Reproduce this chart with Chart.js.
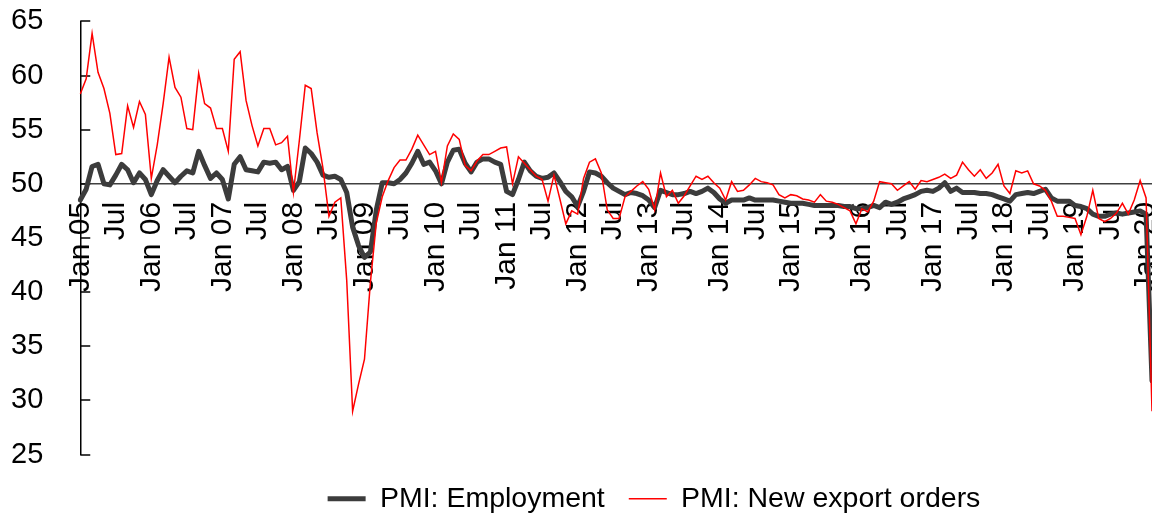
<!DOCTYPE html>
<html><head><meta charset="utf-8">
<script src="https://cdn.jsdelivr.net/npm/chart.js@4.4.1/dist/chart.umd.min.js"></script>
<style>html,body{margin:0;padding:0;background:#fff;}canvas{display:block}</style>
</head><body>
<canvas id="c" width="1152" height="517"></canvas>
<script>
// Monthly categories Jan 2005 .. Feb 2020
const months = [];
for (let i = 0; i < 182; i++) {
  const y = 2005 + Math.floor(i / 12), m = i % 12 + 1;
  months.push(y + '-' + String(m).padStart(2, '0'));
}
// Tick labels shown every 6 months
const tickLabels = ["Jan 05","Jul","Jan 06","Jul","Jan 07","Jul","Jan 08","Jul","Jan 09","Jul",
  "Jan 10","Jul","Jan 11","Jul","Jan 12","Jul","Jan 13","Jul","Jan 14","Jul","Jan 15","Jul",
  "Jan 16","Jul","Jan 17","Jul","Jan 18","Jul","Jan 19","Jul","Jan 20"];
const yTicks = [25, 30, 35, 40, 45, 50, 55, 60, 65];

const employment = [
48.5,49.5,51.6,51.8,50.0,49.9,50.8,51.8,51.3,50.1,51.0,50.4,
49.0,50.3,51.3,50.7,50.1,50.7,51.2,51.0,53.0,51.7,50.5,51.0,
50.4,48.6,51.8,52.5,51.3,51.2,51.1,52.0,51.9,52.0,51.3,51.6,
49.4,50.2,53.3,52.8,52.0,50.8,50.6,50.7,50.4,49.2,46.0,44.3,
43.2,43.7,47.6,50.1,50.1,50.0,50.4,51.0,51.9,53.0,51.8,52.0,
51.2,50.0,52.0,53.1,53.2,51.9,51.1,52.0,52.3,52.3,52.0,51.8,
49.3,49.0,50.4,52.0,51.2,50.7,50.5,50.6,51.0,50.2,49.3,48.8,
47.9,49.3,51.1,51.0,50.7,50.1,49.6,49.3,49.0,49.2,49.1,48.9,
48.5,47.8,49.4,49.2,49.0,49.0,49.1,49.3,49.1,49.3,49.6,49.2,
48.6,48.2,48.5,48.5,48.5,48.7,48.5,48.5,48.5,48.5,48.4,48.3,
48.2,48.2,48.2,48.1,48.0,48.0,48.0,48.0,48.0,47.9,47.9,47.7,
47.7,47.8,48.0,47.8,48.3,48.1,48.3,48.6,48.8,49.0,49.3,49.4,
49.3,49.6,50.1,49.3,49.6,49.2,49.2,49.2,49.1,49.1,49.0,48.8,
48.6,48.4,49.0,49.1,49.2,49.1,49.3,49.5,48.7,48.4,48.4,48.4,
48.0,47.9,47.7,47.2,47.0,47.0,47.2,47.3,47.2,47.3,47.4,47.5,
47.2,31.8];

const newExportOrders = [
58.3,59.7,63.9,60.3,58.8,56.5,52.7,52.8,57.2,55.2,57.6,56.4,
50.5,53.6,57.4,61.7,58.9,58.0,55.1,55.0,60.2,57.4,57.0,55.1,
55.1,53.0,61.5,62.2,57.7,55.4,53.5,55.1,55.1,53.6,53.8,54.4,
49.2,54.0,59.1,58.8,54.7,51.4,47.0,48.3,48.7,41.1,29.0,31.5,
33.8,40.9,46.4,48.8,50.3,51.5,52.2,52.2,53.2,54.5,53.6,52.7,
53.0,50.1,53.5,54.6,54.1,51.7,51.2,52.1,52.7,52.7,53.0,53.3,
53.4,50.0,52.5,51.9,51.3,50.7,50.4,48.4,50.8,48.6,46.3,47.5,
47.2,50.5,52.0,52.3,51.0,47.6,46.8,46.8,48.8,49.3,49.8,50.2,
49.5,47.6,51.0,48.8,49.4,48.2,48.9,49.8,50.7,50.4,50.7,50.1,
49.6,48.5,50.2,49.3,49.4,49.9,50.5,50.2,50.1,49.9,49.0,48.7,
49.0,48.9,48.6,48.5,48.3,49.0,48.4,48.3,48.1,47.8,47.5,46.3,
47.7,47.4,48.4,50.2,50.1,50.0,49.4,49.8,50.2,49.5,50.3,50.2,
50.4,50.6,50.9,50.5,50.8,52.0,51.3,50.7,51.3,50.5,51.0,51.8,
49.8,49.1,51.2,51.0,51.2,50.0,49.8,49.4,48.4,47.0,47.0,46.9,
46.8,45.3,47.0,49.4,46.8,46.5,46.8,47.3,48.2,47.2,48.5,50.3,
48.7,29.0];

const FONT = "'Liberation Sans', Arial, Helvetica, sans-serif";

const innerTicks = {
  id: 'innerTicks',
  beforeDatasetsDraw(chart) {
    const s = chart.scales.y, ctx = chart.ctx;
    ctx.save();
    ctx.strokeStyle = '#000';
    ctx.lineWidth = 1.5;
    yTicks.forEach(v => {
      const py = Math.round(s.getPixelForValue(v));
      ctx.beginPath();
      ctx.moveTo(s.right, py);
      ctx.lineTo(s.right + 10, py);
      ctx.stroke();
    });
    ctx.restore();
  }
};

const legendShift = {
  id: 'legendShift',
  afterLayout(chart) {
    const l = chart.legend;
    if (!l) return;
    const dx = 654 - (l.left + l.right) / 2;
    l.left += dx; l.right += dx;
    l.top += 6; l.bottom += 6;
  }
};

new Chart(document.getElementById('c'), {
  type: 'line',
  data: {
    labels: months,
    datasets: [
      { label: 'PMI: Employment', data: employment, borderColor: '#3c3c3c', backgroundColor: '#3c3c3c',
        borderWidth: 5, pointRadius: 0, tension: 0, borderJoinStyle: 'round', borderCapStyle: 'round', order: 1 },
      { label: 'PMI: New export orders', data: newExportOrders, borderColor: '#ff0000', backgroundColor: '#ff0000',
        borderWidth: 1.5, pointRadius: 0, tension: 0, order: 0 }
    ]
  },
  options: {
    responsive: false,
    animation: false,
    devicePixelRatio: 1,
    layout: { padding: { left: 7, right: 0, top: 21, bottom: 0 } },
    plugins: {
      legend: {
        position: 'bottom',
        labels: { usePointStyle: true, pointStyle: 'line', pointStyleWidth: 38, color: '#000',
          font: { family: FONT, size: 28.5 }, padding: 24,
          sort: (a, b) => a.datasetIndex - b.datasetIndex }
      },
      tooltip: { enabled: false }
    },
    scales: {
      x: {
        type: 'category',
        position: { y: 50 },
        offset: false,
        grid: { display: true, drawOnChartArea: false, drawTicks: false },
        border: { display: true, color: '#404040', width: 1.5 },
        ticks: {
          autoSkip: false, maxRotation: 90, minRotation: 90, padding: 18, color: '#000',
          font: { family: FONT, size: 30 },
          callback: (v, i) => (i % 6 === 0 ? tickLabels[i / 6] : '')
        },
        afterFit: (s) => { s.paddingLeft = 0; s.paddingRight = 0; }
      },
      y: {
        min: 25, max: 65,
        grid: { display: true, drawOnChartArea: false, drawTicks: true, tickLength: 33, tickColor: 'rgba(0,0,0,0)' },
        border: { display: true, color: '#000', width: 1.5 },
        ticks: { stepSize: 5, padding: 4, color: '#000', font: { family: FONT, size: 29 } }
      }
    }
  },
  plugins: [innerTicks, legendShift]
});
</script>
</body></html>
